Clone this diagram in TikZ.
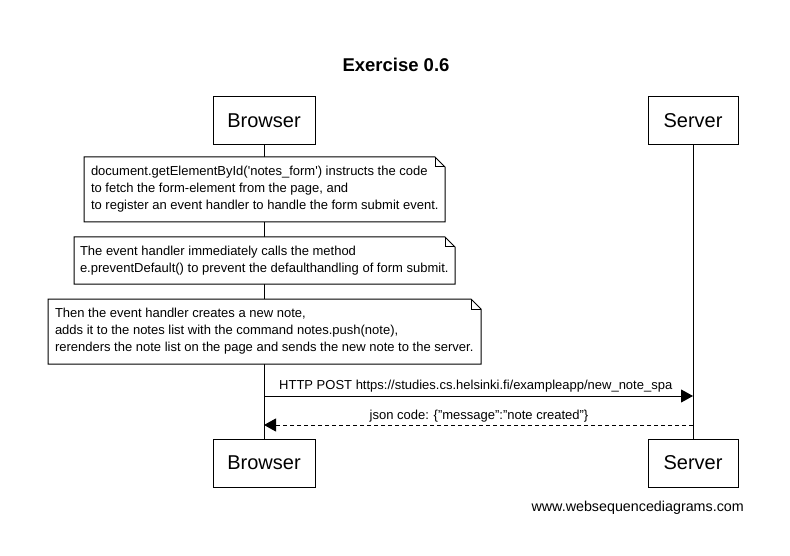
\documentclass[tikz,border=0pt]{standalone}
\usepackage{fontspec}
\setmainfont{Liberation Sans}
\usetikzlibrary{arrows.meta}
\tikzset{
  actor/.style={draw, line width=1pt, fill=white, minimum width=102pt, minimum height=48pt, inner sep=0pt, font=\fontsize{20}{24}\selectfont},
  actorS/.style={actor, minimum width=90pt},
  notetext/.style={anchor=north west, inner sep=0pt, outer sep=0pt, align=left, font=\fontsize{13}{17}\selectfont},
  notebox/.style={draw, line width=1pt, fill=white},
  msg/.style={line width=1pt, -{Triangle[length=12pt,width=13pt]}},
  lbl/.style={font=\fontsize{13}{15}\selectfont, inner sep=0pt},
  lifeline/.style={line width=1pt}
}
\newcommand{\notebg}[3]{% name, width, height : draws dog-eared note box at node corner
  \draw[notebox] (#1) -- ++(0,#3) -- ++(#2,0) -- ++(0,-#3+10) -- ++(-10,-10) -- cycle;
  \draw[line width=1pt] ([xshift=#2-10]#1) -- ++(0,10) -- ++(10,0);
}
\begin{document}
\begin{tikzpicture}[x=1pt,y=-1pt]
\useasboundingbox[fill=white] (0,0) rectangle (790,556);
% title
\node[font=\bfseries\fontsize{18.5}{22}\selectfont] (title) at (396,65) {Exercise 0.6};
% participants
\node[actor] (bt) at (264,121) {Browser};
\node[actorS] (st) at (693,121) {Server};
\node[actor] (bb) at (264,463) {Browser};
\node[actorS] (sb) at (693,463) {Server};
% lifelines
\draw[lifeline] (bt.south) -- (bb.north);
\draw[lifeline] (st.south) -- (sb.north);
% note 1
\coordinate (n1c) at (84,157);
\notebg{n1c}{361}{65}
\node[notetext] (n1) at (91,166) {document.getElementById(\textquotesingle notes\_form\textquotesingle) instructs the code\\to fetch the form-element from the page, and\\to register an event handler to handle the form submit event.};
% note 2
\coordinate (n2c) at (74,237);
\notebg{n2c}{381}{47}
\node[notetext] (n2) at (80,246) {The event handler immediately calls the method\\e.preventDefault() to prevent the defaulthandling of form submit.};
% note 3
\coordinate (n3c) at (48,299);
\notebg{n3c}{433}{65}
\node[notetext] (n3) at (55,308) {Then the event handler creates a new note,\\adds it to the notes list with the command notes.push(note),\\rerenders the note list on the page and sends the new note to the server.};
% messages
\coordinate (m1s) at (bt.south |- 0,396);
\coordinate (m1e) at (st.south |- 0,396);
\draw[msg] (m1s) -- (m1e);
\node[lbl, anchor=base west] (l1) at (279,389) {HTTP POST https://studies.cs.helsinki.fi/exampleapp/new\_note\_spa};
\coordinate (m2s) at (st.south |- 0,425);
\coordinate (m2e) at (bt.south |- 0,425);
\draw[msg, dash pattern=on 4pt off 3pt] (m2s) -- (m2e);
\node[lbl, anchor=base] (l2) at (479,419) {json code: \{"message":"note created"\}};
% footer
\node[font=\fontsize{14.3}{16}\selectfont, anchor=base east, inner sep=0pt] (foot) at (744,511) {www.websequencediagrams.com};
\end{tikzpicture}
\end{document}
